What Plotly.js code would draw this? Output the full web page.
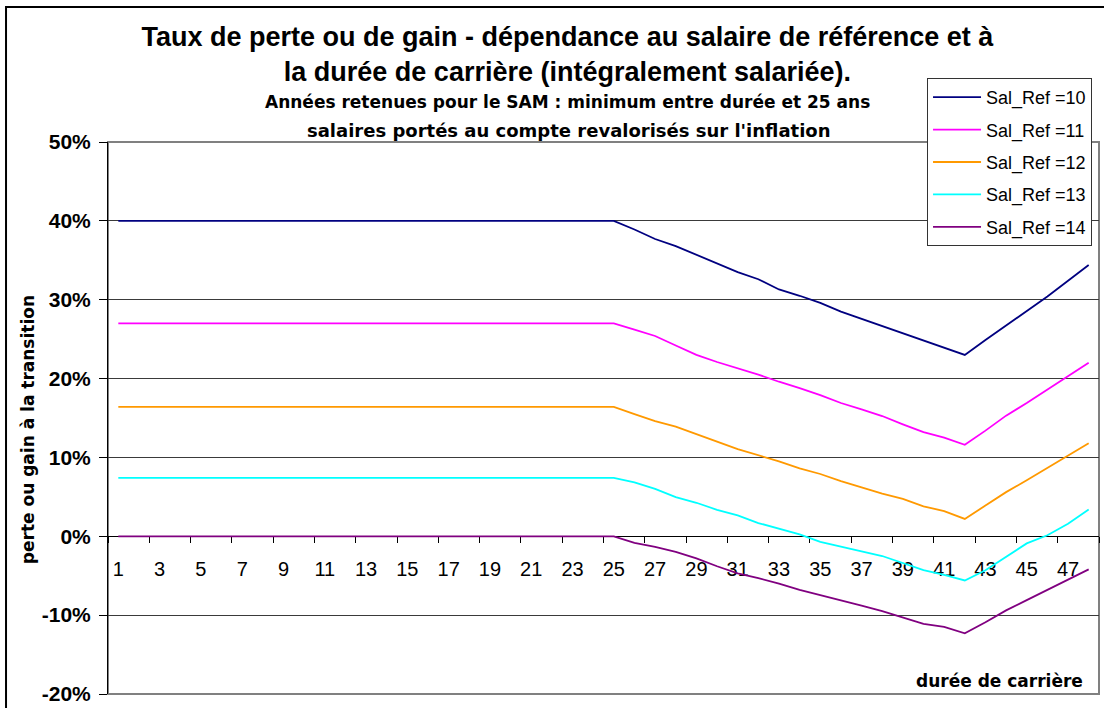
<!DOCTYPE html>
<html>
<head>
<meta charset="utf-8">
<script src="https://cdn.plot.ly/plotly-3.0.1.min.js"></script>
<style>html,body{margin:0;padding:0;background:#fff;}#chart{width:1104px;height:708px;}</style>
</head>
<body>
<div id="chart"></div>
<script>
// durée de carrière (années)
const categories = [1,2,3,4,5,6,7,8,9,10,11,12,13,14,15,16,17,18,19,20,21,22,23,24,25,26,27,28,29,30,31,32,33,34,35,36,37,38,39,40,41,42,43,44,45,46,47,48];

// perte ou gain (%) par salaire de référence
const salRef10 = [40,40,40,40,40,40,40,40,40,40,40,40,40,40,40,40,40,40,40,40,40,40,40,40,40,
  38.9,37.7,36.8,35.7,34.6,33.5,32.6,31.3,30.5,29.6,28.5,27.6,26.7,25.8,24.8,23.9,23.0,24.9,26.7,28.5,30.4,32.4,34.4];
const salRef11 = [27,27,27,27,27,27,27,27,27,27,27,27,27,27,27,27,27,27,27,27,27,27,27,27,27,
  26.2,25.4,24.2,23.0,22.1,21.3,20.5,19.6,18.8,17.9,16.9,16.1,15.25,14.2,13.2,12.5,11.6,13.4,15.3,16.9,18.6,20.3,22.0];
const salRef12 = [16.4,16.4,16.4,16.4,16.4,16.4,16.4,16.4,16.4,16.4,16.4,16.4,16.4,16.4,16.4,16.4,16.4,16.4,16.4,16.4,16.4,16.4,16.4,16.4,16.4,
  15.5,14.6,13.9,12.9,12.0,11.05,10.3,9.5,8.6,7.9,7.0,6.2,5.4,4.75,3.8,3.2,2.2,3.9,5.6,7.1,8.7,10.2,11.8];
const salRef13 = [7.4,7.4,7.4,7.4,7.4,7.4,7.4,7.4,7.4,7.4,7.4,7.4,7.4,7.4,7.4,7.4,7.4,7.4,7.4,7.4,7.4,7.4,7.4,7.4,7.4,
  6.85,6.0,4.96,4.25,3.36,2.65,1.68,0.97,0.25,-0.71,-1.34,-1.9,-2.5,-3.45,-4.3,-4.9,-5.6,-4.3,-2.6,-0.9,0.13,1.6,3.4];
const salRef14 = [0,0,0,0,0,0,0,0,0,0,0,0,0,0,0,0,0,0,0,0,0,0,0,0,0,
  -0.84,-1.34,-1.97,-2.8,-3.8,-4.7,-5.3,-6.0,-6.8,-7.45,-8.15,-8.8,-9.5,-10.3,-11.1,-11.5,-12.3,-10.9,-9.4,-8.1,-6.8,-5.5,-4.2];

const seriesNames = ["Sal_Ref =10","Sal_Ref =11","Sal_Ref =12","Sal_Ref =13","Sal_Ref =14"];
const seriesValues = [salRef10, salRef11, salRef12, salRef13, salRef14];
const seriesColors = ["#000080","#FF00FF","#FF9900","#00FFFF","#800080"];

// tick labels
const xTickVals = [1,3,5,7,9,11,13,15,17,19,21,23,25,27,29,31,33,35,37,39,41,43,45,47];
const xTickText = ["1","3","5","7","9","11","13","15","17","19","21","23","25","27","29","31","33","35","37","39","41","43","45","47"];
const xTickBounds = [0.5,2.5,4.5,6.5,8.5,10.5,12.5,14.5,16.5,18.5,20.5,22.5,24.5,26.5,28.5,30.5,32.5,34.5,36.5,38.5,40.5,42.5,44.5,46.5,48.5];
const yTickVals = [-20,-10,0,10,20,30,40,50];
const yTickText = ["-20%","-10%","0%","10%","20%","30%","40%","50%"];

const FONT = "Arial, 'Liberation Sans', sans-serif";
const WIDE = "'DejaVu Sans', Verdana, sans-serif";

const traces = seriesValues.map((vals, i) => ({
  type: "scatter",
  mode: "lines",
  x: categories,
  y: vals,
  name: seriesNames[i],
  legendgroup: "g" + i,
  line: {color: seriesColors[i], width: 1.8},
  hoverinfo: "skip"
}));

const layout = {
  width: 1104,
  height: 708,
  paper_bgcolor: "#ffffff",
  plot_bgcolor: "#ffffff",
  margin: {l: 108, r: 5, t: 142, b: 14, pad: 0, autoexpand: false},
  font: {family: FONT, color: "#000"},
  title: {
    text: "Taux de perte ou de gain - dépendance au salaire de référence et à<br>la durée de carrière (intégralement salariée).",
    font: {family: FONT, size: 27, weight: "bold", color: "#000"},
    xref: "container", x: 0.514, xanchor: "center",
    yref: "container", y: 0.935, yanchor: "top"
  },
  xaxis: {
    type: "linear",
    range: [0.5, 48.5],
    anchor: "free",
    position: 2/7,
    showline: true, linecolor: "#000", linewidth: 1,
    showgrid: false, zeroline: false,
    tickmode: "array", tickvals: xTickVals, ticktext: xTickText,
    ticks: "outside", ticklen: 15, tickcolor: "rgba(0,0,0,0)",
    tickfont: {family: FONT, size: 20, color: "#000"},
    minor: {tickmode: "array", tickvals: xTickBounds, ticks: "outside", ticklen: 6, tickwidth: 1, tickcolor: "#000", showgrid: false},
    layer: "below traces",
    fixedrange: true
  },
  yaxis: {
    range: [-20, 50],
    tickmode: "array", tickvals: yTickVals, ticktext: yTickText,
    ticks: "outside", ticklen: 8, tickcolor: "#000",
    ticklabelstandoff: 4,
    showline: true, linecolor: "#000", linewidth: 1,
    showgrid: true, gridcolor: "#3a3a3a", gridwidth: 1,
    zeroline: false,
    tickfont: {family: FONT, size: 21, weight: "bold", color: "#000"},
    layer: "below traces",
    fixedrange: true
  },
  showlegend: true,
  legend: {
    xref: "container", yref: "container",
    x: 0.8397, y: 0.8898, xanchor: "left", yanchor: "top",
    bgcolor: "#ffffff", bordercolor: "#333", borderwidth: 1,
    font: {family: FONT, size: 18, color: "#000"},
    itemwidth: 48,
    tracegroupgap: 6,
    traceorder: "grouped"
  },
  annotations: [
    {text: "Années retenues pour le SAM : minimum entre durée et 25 ans", xref: "paper", yref: "paper",
     x: 0.4632, y: 1.0725, xanchor: "center", yanchor: "middle", showarrow: false,
     font: {family: WIDE, size: 17, weight: "bold", color: "#000"}},
    {text: "salaires portés au compte revalorisés sur l'inflation", xref: "paper", yref: "paper",
     x: 0.4652, y: 1.0217, xanchor: "center", yanchor: "middle", showarrow: false,
     font: {family: WIDE, size: 18, weight: "bold", color: "#000"}},
    {text: "durée de carrière", xref: "paper", yref: "paper",
     x: 0.9859, y: 0.0236, xanchor: "right", yanchor: "middle", showarrow: false,
     font: {family: WIDE, size: 17, weight: "bold", color: "#000"}},
    {text: "perte ou gain à la transition", xref: "paper", yref: "paper",
     x: -0.0807, y: 0.478, xanchor: "center", yanchor: "middle", showarrow: false, textangle: -90,
     font: {family: WIDE, size: 17, weight: "bold", color: "#000"}}
  ],
  shapes: [
    {type: "rect", xref: "paper", yref: "paper", x0: 0, x1: 1, y0: 0, y1: 1,
     line: {color: "#808080", width: 2}, layer: "below"},
    {type: "rect", xref: "paper", yref: "paper", x0: -0.1029, x1: 1.05, y0: -0.1, y1: 1.2446,
     line: {color: "#000", width: 2}, layer: "below"}
  ]
};

Plotly.newPlot("chart", traces, layout, {displayModeBar: false, staticPlot: true});
</script>
</body>
</html>
